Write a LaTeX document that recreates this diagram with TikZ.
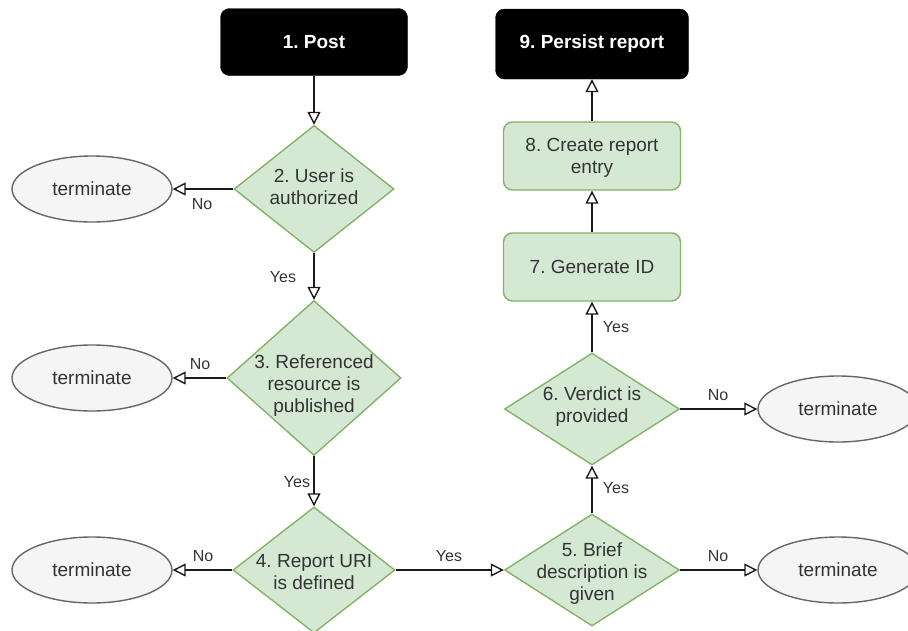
\documentclass[tikz,border=0pt]{standalone}
\usepackage{fontspec}
\setmainfont{Liberation Sans}
\usetikzlibrary{shapes.geometric,arrows.meta}
\definecolor{decfill}{HTML}{D5E8D4}
\definecolor{decline}{HTML}{82B366}
\definecolor{termfill}{HTML}{F5F5F5}
\definecolor{termline}{HTML}{666666}
\definecolor{ink}{HTML}{333333}
\definecolor{wire}{HTML}{1A1A1A}
\tikzset{
  base/.style={font=\fontsize{19}{22}\selectfont, text=ink, align=center},
  term/.style={base, ellipse, draw=termline, fill=termfill, line width=1.4pt,
    minimum width=160pt, minimum height=66pt, inner sep=0pt},
  dec/.style={diamond, draw=decline, fill=decfill, line width=1.4pt, inner sep=0pt},
  txt/.style={base, inner sep=0pt},
  proc/.style={base, rectangle, rounded corners=9pt, draw=decline, fill=decfill,
    line width=1.4pt, minimum width=177pt, minimum height=68pt},
  startbox/.style={rectangle, rounded corners=9pt, fill=black, draw=black,
    text=white, font=\fontsize{19}{22}\selectfont\bfseries,
    minimum width=187pt, minimum height=67pt},
  lbl/.style={font=\fontsize{16}{18}\selectfont, text=ink, inner sep=0pt},
  flow/.style={draw=wire, line width=1.4pt,
    -{Triangle[open, length=13pt, width=13pt, line width=1.4pt]}},
}
\begin{document}
\frenchspacing
\begin{tikzpicture}[x=1pt, y=-1pt]
\useasboundingbox (0,0) rectangle (908,630);
\clip (0,0) rectangle (908,630);

% left column
\node[startbox] (n1) at (314,42) {1. Post};
\node[dec, minimum width=160pt, minimum height=127pt] (d2) at (314,189) {};
\node[txt] (t2txt) at ([yshift=2pt]d2.center) {2. User is\\authorized};
\node[dec, minimum width=174pt, minimum height=155pt] (d3) at (314,378) {};
\node[txt] (t3txt) at ([yshift=-8pt]d3.center) {3. Referenced\\resource is\\published};
\node[dec, minimum width=162pt, minimum height=126pt] (d4) at (314,570) {};
\node[txt] (t4txt) at ([yshift=-2pt]d4.center) {4. Report URI\\is defined};

\node[term] (e2) at (92,189) {terminate};
\node[term] (e3) at (92,378) {terminate};
\node[term] (e4) at (92,570) {terminate};

% right column
\node[startbox, minimum width=193pt, minimum height=70pt] (n9) at (592,44) {9. Persist report};
\node[proc] (p8) at (592,156) {};
\node[txt] (t8txt) at ([yshift=-2pt]p8.center) {8. Create report\\entry};
\node[proc] (p7) at (592,267) {7. Generate ID};
\node[dec, minimum width=175pt, minimum height=112pt] (d6) at (592,409) {};
\node[txt] (t6txt) at ([yshift=2pt]d6.center) {6. Verdict is\\provided};
\node[dec, minimum width=175pt, minimum height=112pt] (d5) at (592,570) {};
\node[txt] (t5txt) at ([yshift=-4pt]d5.center) {5. Brief\\description is\\given};

\node[term] (e6) at (838,409) {terminate};
\node[term] (e5) at (838,570) {terminate};

% connectors
\draw[flow] (n1.south) -- (d2.north);
\draw[flow] (d2.south) -- (d3.north);
\draw[flow] (d3.south) -- (d4.north);
\draw[flow] (d2.west) -- (e2.east);
\draw[flow] (d3.west) -- (e3.east);
\draw[flow] (d4.west) -- (e4.east);
\draw[flow] (d4.east) -- (d5.west);
\draw[flow] (d5.north) -- (d6.south);
\draw[flow] (d6.north) -- (p7.south);
\draw[flow] (p7.north) -- (p8.south);
\draw[flow] (p8.north) -- (n9.south);
\draw[flow] (d6.east) -- (e6.west);
\draw[flow] (d5.east) -- (e5.west);

% branch labels
\node[lbl] (l2no) at (202,204) {No};
\node[lbl] (l2yes) at (283,277) {Yes};
\node[lbl] (l3no) at (200,364) {No};
\node[lbl] (l3yes) at (297,482) {Yes};
\node[lbl] (l4no) at (203,556) {No};
\node[lbl] (l4yes) at (449,556) {Yes};
\node[lbl] (l5yes) at (616,488) {Yes};
\node[lbl] (l6yes) at (616,327) {Yes};
\node[lbl] (l6no) at (718,395) {No};
\node[lbl] (l5no) at (718,556) {No};
\end{tikzpicture}
\end{document}
